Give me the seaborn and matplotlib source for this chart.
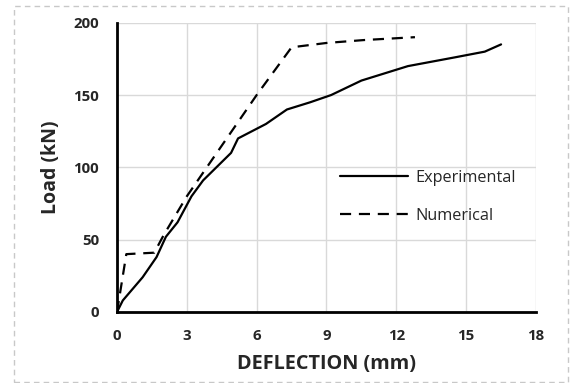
import matplotlib
matplotlib.use("Agg")
import matplotlib.pyplot as plt
import seaborn as sns
import pandas as pd
from matplotlib.patches import Rectangle

# Data
exp_defl = [0, 0.25, 1.1, 1.7, 2.1, 2.6, 3.2, 3.7, 4.9, 5.2, 6.4, 7.3, 8.3, 9.2, 10.5, 12.5, 14.5, 15.8, 16.5]
exp_load = [0, 8, 24, 38, 52, 62, 80, 91, 110, 120, 130, 140, 145, 150, 160, 170, 176, 180, 185]
num_defl = [0, 0.2, 0.4, 1.6, 2.0, 3.0, 4.5, 6.0, 7.5, 9.0, 10.6, 12.8]
num_load = [0, 20, 40, 41, 53, 80, 115, 150, 183, 186, 188, 190]
series_names = ["Experimental", "Numerical"]
x_ticks = [0, 3, 6, 9, 12, 15, 18]
y_ticks = [0, 50, 100, 150, 200]

df = pd.DataFrame({
    "defl": exp_defl + num_defl,
    "load": exp_load + num_load,
    "series": [series_names[0]] * len(exp_defl) + [series_names[1]] * len(num_defl),
})

sns.set_theme(style="white")
plt.rcParams["font.family"] = ["Open Sans", "DejaVu Sans"]

fig = plt.figure(figsize=(5.73, 3.83), dpi=100)
ax = fig.add_axes([0.2042, 0.1854, 0.9354 - 0.2042, 0.9407 - 0.1854])

sns.lineplot(data=df, x="defl", y="load", hue="series", style="series",
             palette={"Experimental": "black", "Numerical": "black"},
             dashes={"Experimental": "", "Numerical": (5, 3.5)},
             sort=False, estimator=None, linewidth=1.6, ax=ax)

ax.set_xlim(0, 18)
ax.set_ylim(0, 200)
ax.set_xticks(x_ticks)
ax.set_yticks(y_ticks)
ax.grid(True, color="#d9d9d9", linewidth=1.0)
ax.set_axisbelow(True)
for s in ["top", "right"]:
    ax.spines[s].set_visible(False)
for s in ["left", "bottom"]:
    ax.spines[s].set_color("black")
    ax.spines[s].set_linewidth(2.0)
ax.tick_params(axis="both", length=0, labelsize=10.8)
ax.tick_params(axis="y", pad=13)
ax.tick_params(axis="x", pad=12.5)
for lbl in ax.get_xticklabels() + ax.get_yticklabels():
    lbl.set_fontweight("bold")

ax.set_xlabel("DEFLECTION (mm)", fontsize=14.3, fontweight="bold", labelpad=8)
ax.set_ylabel("Load (kN)", fontsize=14, fontweight="bold", labelpad=9)

leg = ax.legend(loc="center left", bbox_to_anchor=(0.593, 0.4864),
                bbox_transform=fig.transFigure, frameon=False, fontsize=11.7,
                handlelength=4.2, handletextpad=0.45, labelspacing=1.35,
                borderpad=0, borderaxespad=0)
leg.set_title(None)

fig.patches.append(Rectangle((14 / 573, 1 / 383), (568 - 14) / 573, (377 - 1) / 383,
                             transform=fig.transFigure, fill=False,
                             edgecolor="#c8c8c8", linestyle=(0, (4, 3)), linewidth=1.0))

fig.savefig("out.png", dpi=100)
